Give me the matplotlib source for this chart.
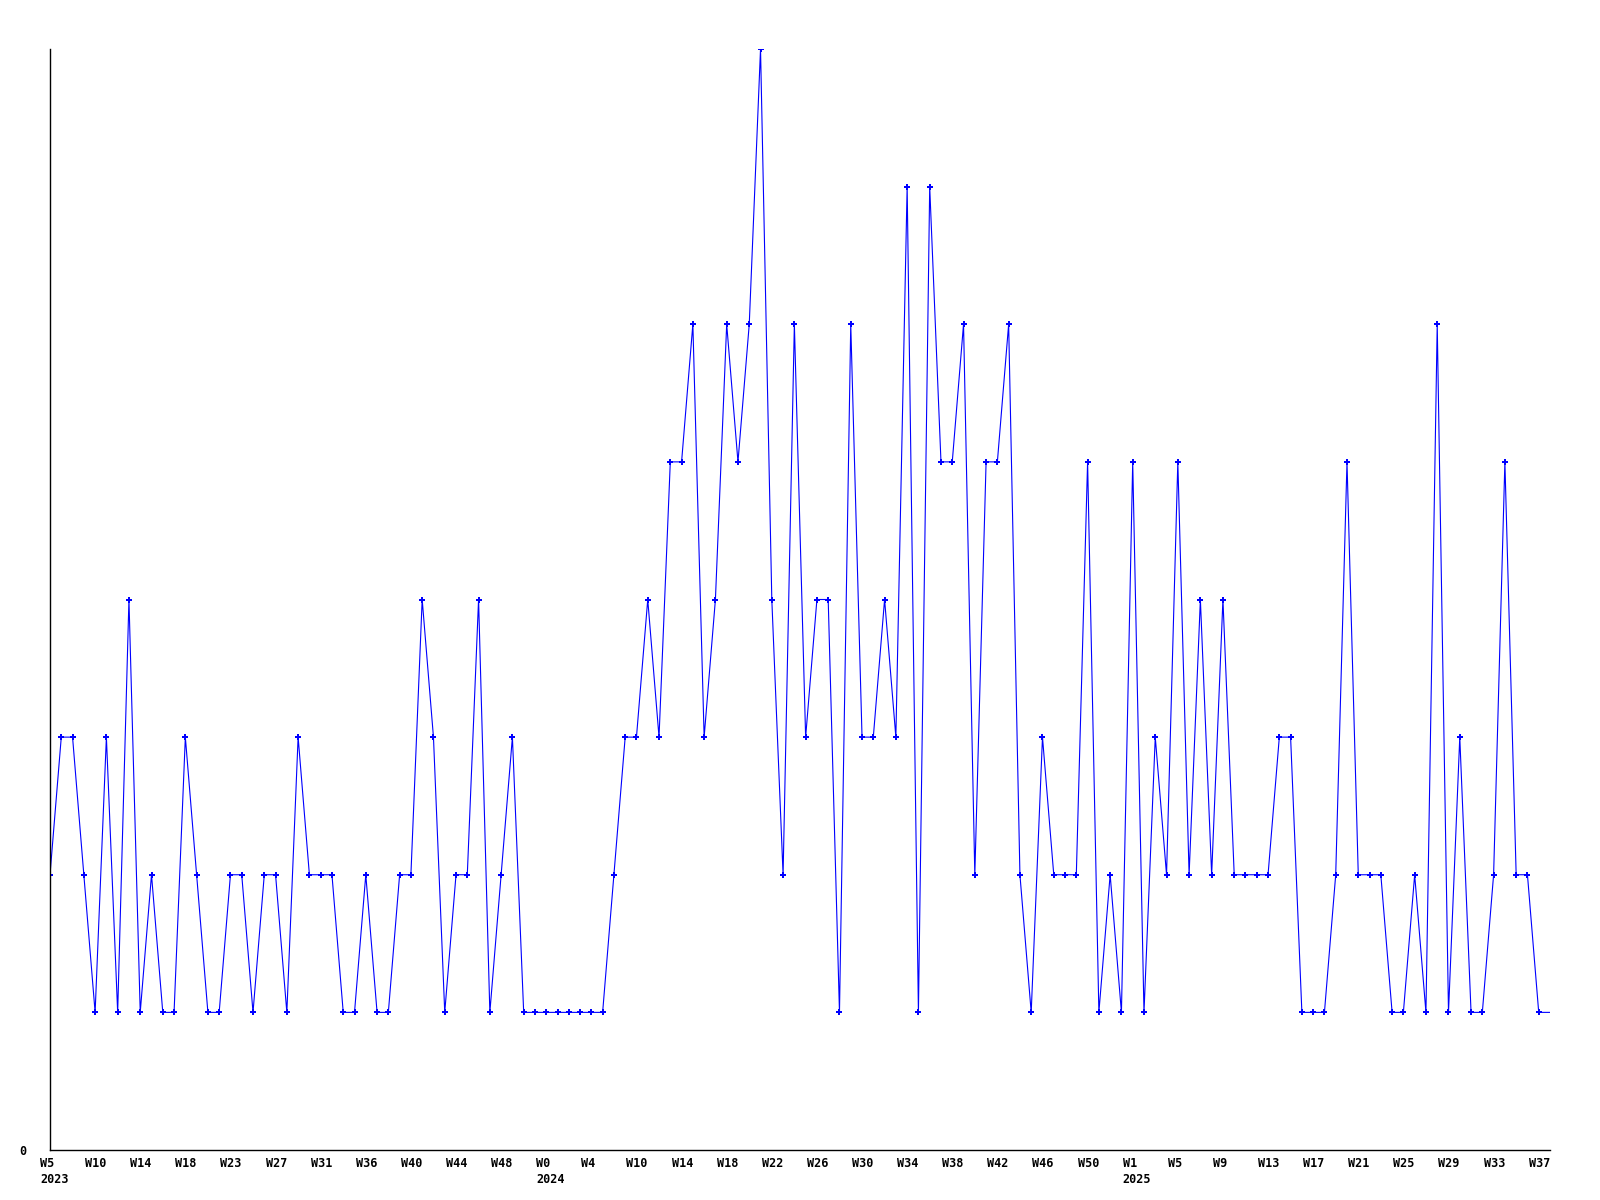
import matplotlib
matplotlib.use("Agg")
import matplotlib.pyplot as plt
import matplotlib.transforms as mtransforms

# weekly counts, 2023 W5 .. 2025 W37 (last value is the running week, drawn without marker)
counts = [2, 3, 3, 2, 1, 3, 1, 4, 1, 2, 1, 1, 3, 2, 1, 1, 2, 2, 1, 2,
          2, 1, 3, 2, 2, 2, 1, 1, 2, 1, 1, 2, 2, 4, 3, 1, 2, 2, 4, 1,
          2, 3, 1, 1, 1, 1, 1, 1, 1, 1, 2, 3, 3, 4, 3, 5, 5, 6, 3, 4,
          6, 5, 6, 8, 4, 2, 6, 3, 4, 4, 1, 6, 3, 3, 4, 3, 7, 1, 7, 5,
          5, 6, 2, 5, 5, 6, 2, 1, 3, 2, 2, 2, 5, 1, 2, 1, 5, 1, 3, 2,
          5, 2, 4, 2, 4, 2, 2, 2, 2, 3, 3, 1, 1, 1, 2, 5, 2, 2, 2, 1,
          1, 2, 1, 6, 1, 3, 1, 1, 2, 5, 2, 2, 1, 1]

tick_every = 4
tick_labels = ["W5\n2023", "W10", "W14", "W18", "W23", "W27", "W31", "W36",
               "W40", "W44", "W48", "W0\n2024", "W4", "W10", "W14", "W18",
               "W22", "W26", "W30", "W34", "W38", "W42", "W46", "W50",
               "W1\n2025", "W5", "W9", "W13", "W17", "W21", "W25", "W29",
               "W33", "W37"]

fig = plt.figure(figsize=(16, 12), dpi=100)
ax = fig.add_axes([50 / 1600, 1 - 1150 / 1200, 1500 / 1600, 1101 / 1200])

x = list(range(len(counts)))
ax.plot(x, counts, color="#0000ff", linewidth=0.8, marker="P", markersize=5,
        markeredgewidth=0, markevery=list(range(len(counts) - 1)))

ax.set_xlim(0, len(counts) - 1)
ax.set_ylim(0, 8)

for side in ("top", "right"):
    ax.spines[side].set_visible(False)
for side in ("left", "bottom"):
    ax.spines[side].set_color("black")
    ax.spines[side].set_linewidth(1.0)

font = dict(family="DejaVu Sans Mono", weight="bold", size=8.5)

ax.set_yticks([0])
ax.set_yticklabels(["0"], **font)
ax.tick_params(axis="y", length=0, pad=17)

ax.set_xticks(list(range(0, len(tick_labels) * tick_every, tick_every)))
ax.set_xticklabels(tick_labels, ha="left", va="top", multialignment="left",
                   linespacing=1.3, **font)
ax.tick_params(axis="x", length=0, pad=5)
shift = mtransforms.ScaledTranslation(-10 / 100, 0, fig.dpi_scale_trans)
for lab in ax.get_xticklabels():
    lab.set_transform(lab.get_transform() + shift)

fig.savefig("out.png", dpi=100, facecolor="white")
